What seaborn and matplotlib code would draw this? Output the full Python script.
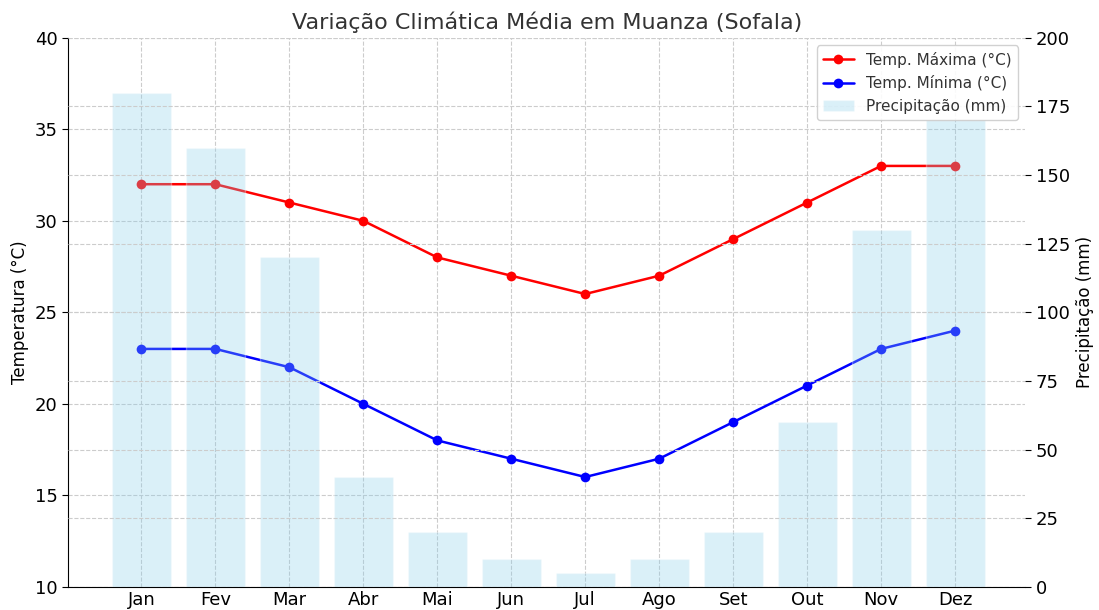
import numpy as np
import pandas as pd
import seaborn as sns
import matplotlib.pyplot as plt

meses = ["Jan", "Fev", "Mar", "Abr", "Mai", "Jun", "Jul", "Ago", "Set", "Out", "Nov", "Dez"]
temp_max = [32, 32, 31, 30, 28, 27, 26, 27, 29, 31, 33, 33]
temp_min = [23, 23, 22, 20, 18, 17, 16, 17, 19, 21, 23, 24]
precip = [180, 160, 120, 40, 20, 10, 5, 10, 20, 60, 130, 170]

sns.set_style("white", {"axes.grid": True, "grid.linestyle": "--", "grid.color": "#cccccc",
                        "axes.labelcolor": "black", "xtick.color": "black",
                        "ytick.color": "black", "text.color": "black",
                        "axes.edgecolor": "black"})
plt.rcParams["font.family"] = ["DejaVu Sans"]

df = pd.DataFrame({"mes": meses, "max": temp_max, "min": temp_min, "chuva": precip})

fig, ax1 = plt.subplots(figsize=(10.99, 6.1), dpi=100)
fig.subplots_adjust(left=0.062, right=0.933, top=0.938, bottom=0.038)

sns.lineplot(data=df, x="mes", y="max", ax=ax1, color="red", marker="o", markersize=7,
             markeredgewidth=0, linewidth=1.8, label="Temp. Máxima (°C)", sort=False)
sns.lineplot(data=df, x="mes", y="min", ax=ax1, color="blue", marker="o", markersize=7,
             markeredgewidth=0, linewidth=1.8, label="Temp. Mínima (°C)", sort=False)
ax1.set_ylim(10, 40)
ax1.set_ylabel("Temperatura (°C)", fontsize=12)
ax1.set_xlabel("")
ax1.tick_params(axis="y", labelsize=13, length=4, left=True)
ax1.tick_params(axis="x", labelsize=13, length=0, pad=3)
ax1.grid(True, linestyle="--", color="#cccccc", linewidth=0.8)

ax2 = ax1.twinx()
sns.barplot(data=df, x="mes", y="chuva", ax=ax2, color="skyblue", alpha=0.3,
            saturation=1, width=0.8, label="Precipitação (mm)", zorder=0)
ax2.set_ylim(0, 200)
ax2.set_yticks(range(0, 201, 25))
ax2.set_ylabel("Precipitação (mm)", fontsize=12)
ax2.set_xlabel("")
ax2.tick_params(axis="y", labelsize=13, length=4, right=True)
ax2.grid(True, axis="y", linestyle="--", color="#cccccc", linewidth=0.8)
ax1.set_xlim(-0.99, 11.95)

for ax in (ax1, ax2):
    ax.spines["top"].set_visible(False)
    ax.spines["right"].set_visible(False)
ax2.spines["left"].set_visible(False)
ax2.spines["bottom"].set_visible(False)

h1, l1 = ax1.get_legend_handles_labels()
h2, l2 = ax2.get_legend_handles_labels()
if ax1.get_legend():
    ax1.get_legend().remove()
leg = ax2.legend(h1 + h2, l1 + l2, loc="upper right", fontsize=11, framealpha=0.9)
for t in leg.get_texts():
    t.set_color("#333333")

ax1.set_title("Variação Climática Média em Muanza (Sofala)", fontsize=16, color="#333333")

fig.savefig("out.png", dpi=100)
